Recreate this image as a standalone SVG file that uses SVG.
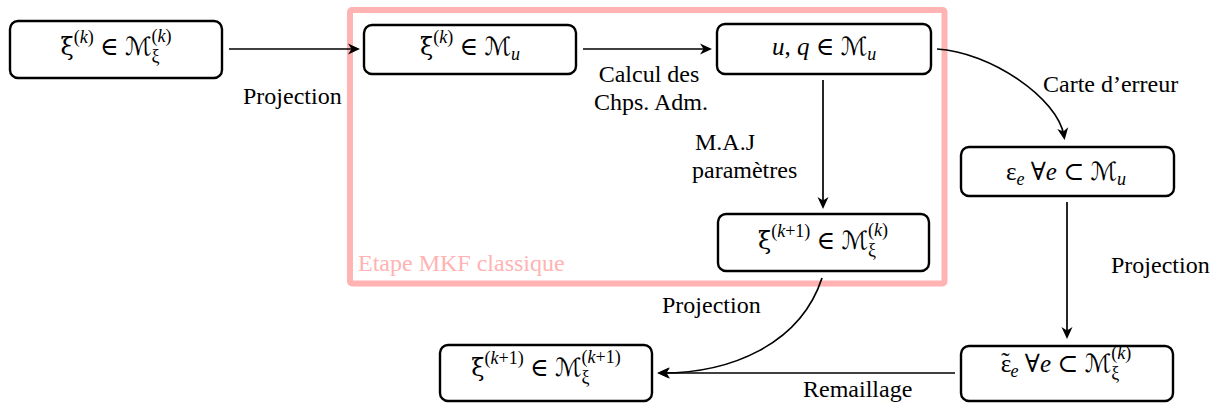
<svg xmlns="http://www.w3.org/2000/svg" width="1222" height="417" viewBox="0 0 1222 417">
<style>
.box{fill:#fff;stroke:#000;stroke-width:2.4}
.edge{fill:none;stroke:#000;stroke-width:1.7;marker-end:url(#arr)}
.m{font-family:"Liberation Serif","DejaVu Serif",serif;font-size:25px;fill:#000}
.lbl{font-family:"Liberation Serif","DejaVu Serif",serif;font-size:24px;fill:#000}
.i{font-style:italic}
.s{font-size:18px}
.g{font-family:"DejaVu Serif",serif;font-size:24px}
.cal{font-family:"DejaVu Serif","DejaVu Sans",serif;font-style:italic}
.frame{fill:none;stroke:#ffb3b3;stroke-width:6}
.ftxt{font-family:"Liberation Serif","DejaVu Serif",serif;font-size:24px;fill:#ffb3b3}
</style>
<defs>
<marker id="arr" markerUnits="userSpaceOnUse" viewBox="-14 -7 16 14" refX="-4" refY="0" markerWidth="16" markerHeight="14" orient="auto" overflow="visible">
<path d="M0,0 L-12,-5.5 L-8.5,0 L-12,5.5 Z" fill="#000"/>
</marker>
</defs>
<g id="frame">
<rect class="frame" x="350" y="10" width="594.5" height="273.5" rx="2"/>
<text class="ftxt" x="358" y="271">Etape MKF classique</text>
</g>
<g id="connectors">
<path class="edge" d="M229,49 H356"/>
<path class="edge" d="M583,49 H708"/>
<path class="edge" d="M937,49 C990,52 1058,98 1064,136"/>
<path class="edge" d="M823,80 V205"/>
<path class="edge" d="M1067,202 V335"/>
<path class="edge" d="M955,373 H661"/>
<path class="edge" d="M822,278 C800,345 730,373 662,373"/>
<text class="lbl" x="243" y="104">Projection</text>
<text class="lbl" x="649" y="82" text-anchor="middle">Calcul des</text>
<text class="lbl" x="651" y="110" text-anchor="middle">Chps. Adm.</text>
<text class="lbl" x="695" y="150">M.A.J</text>
<text class="lbl" x="692" y="178">paramètres</text>
<text class="lbl" x="1043" y="92">Carte d’erreur</text>
<text class="lbl" x="1111" y="273">Projection</text>
<text class="lbl" x="803" y="397">Remaillage</text>
<text class="lbl" x="662" y="313">Projection</text>
</g>
<g id="n1">
<rect class="box" x="10" y="21" width="212" height="57" rx="8"/>
<text class="m" x="116" y="55" text-anchor="middle"><tspan class="g">ξ</tspan><tspan class="s" dy="-12">(<tspan class="i">k</tspan>)</tspan><tspan dy="12"> ∈ </tspan><tspan class="cal">ℳ</tspan><tspan class="s" dy="7">ξ</tspan><tspan class="s" dx="-8" dy="-20">(<tspan class="i">k</tspan>)</tspan></text>
</g>
<g id="n2">
<rect class="box" x="364" y="25" width="212" height="49" rx="8"/>
<text class="m" x="470" y="55" text-anchor="middle"><tspan class="g">ξ</tspan><tspan class="s" dy="-12">(<tspan class="i">k</tspan>)</tspan><tspan dy="12"> ∈ </tspan><tspan class="cal">ℳ</tspan><tspan class="s i" dy="5">u</tspan></text>
</g>
<g id="n3">
<rect class="box" x="717" y="24" width="214" height="50" rx="8"/>
<text class="m" x="824" y="55" text-anchor="middle"><tspan class="i">u</tspan>, <tspan class="i">q</tspan> ∈ <tspan class="cal">ℳ</tspan><tspan class="s i" dy="5">u</tspan></text>
</g>
<g id="n4">
<rect class="box" x="718" y="214" width="211" height="57" rx="8"/>
<text class="m" x="823" y="249" text-anchor="middle"><tspan class="g">ξ</tspan><tspan class="s" dy="-12">(<tspan class="i">k</tspan>+1)</tspan><tspan dy="12"> ∈ </tspan><tspan class="cal">ℳ</tspan><tspan class="s" dy="7">ξ</tspan><tspan class="s" dx="-8" dy="-20">(<tspan class="i">k</tspan>)</tspan></text>
</g>
<g id="n5">
<rect class="box" x="961" y="147" width="213" height="49" rx="8"/>
<text class="m" x="1066" y="180" text-anchor="middle">ε<tspan class="s i" dy="5">e</tspan><tspan dy="-5"> ∀</tspan><tspan class="i">e</tspan> ⊂ <tspan class="cal">ℳ</tspan><tspan class="s i" dy="5">u</tspan></text>
</g>
<g id="n6">
<rect class="box" x="961" y="346" width="212" height="55" rx="8"/>
<text class="m" x="1066" y="372" text-anchor="middle">ε<tspan dx="-10" dy="-2">˜</tspan><tspan class="s i" dx="1" dy="7">e</tspan><tspan dy="-5"> ∀</tspan><tspan class="i">e</tspan> ⊂ <tspan class="cal">ℳ</tspan><tspan class="s" dy="7">ξ</tspan><tspan class="s" dx="-8" dy="-20">(<tspan class="i">k</tspan>)</tspan></text>
</g>
<g id="n7">
<rect class="box" x="440" y="345" width="212" height="56" rx="8"/>
<text class="m" x="546" y="376" text-anchor="middle"><tspan class="g">ξ</tspan><tspan class="s" dy="-12">(<tspan class="i">k</tspan>+1)</tspan><tspan dy="12"> ∈ </tspan><tspan class="cal">ℳ</tspan><tspan class="s" dy="7">ξ</tspan><tspan class="s" dx="-8" dy="-20">(<tspan class="i">k</tspan>+1)</tspan></text>
</g>
</svg>
